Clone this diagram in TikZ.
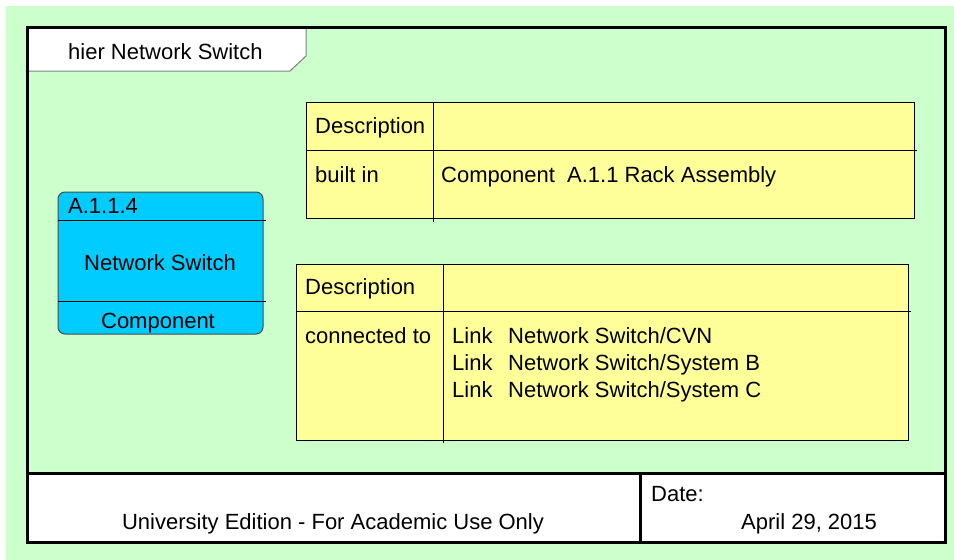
\documentclass[tikz,border=0pt]{standalone}
\usepackage{fontspec}
\setmainfont{Liberation Sans}
\usetikzlibrary{positioning}
\definecolor{bggreen}{HTML}{CCFFCC}
\definecolor{tblyellow}{HTML}{FFFF99}
\definecolor{compblue}{HTML}{00CCFF}

\begin{document}
\begin{tikzpicture}
  [
   x=1pt,y=-1pt,
   every node/.style={font=\fontsize{22}{26}\selectfont},
   tx/.style={anchor=base west,inner sep=0pt},
   tc/.style={anchor=base,inner sep=0pt},
   tbl/.style={draw=black,fill=tblyellow,line width=1pt},
   rl/.style={black,line width=1pt},
   frm/.style={draw=black,line width=3pt}
  ]
   \useasboundingbox (0,0) rectangle (954,560);
   \fill[bggreen] (6,6) rectangle (954,560);

   % title tab and bottom strip
   \draw[fill=white,draw=gray,line width=1pt] (27,27) -- (306,27) -- (306,56) -- (290,71) -- (27,71) -- cycle;
   \fill[white] (27,473) rectangle (945,542);
   \draw[frm] (27,27) rectangle (945,542);
   \draw[frm] (27,473) -- (945,473);
   \draw[frm] (640,473) -- (640,542);

   \node[tx] (title) at (68,59) {hier Network Switch};
   \node[tc] (edition) at (333,529) {University Edition - For Academic Use Only};
   \node[tx] (datelbl) at (651,501) {Date:};
   \node[tx] (dateval) at (741,529) {April 29, 2015};

   % component
   \draw[fill=compblue,draw=black!70,line width=1pt,rounded corners=7pt] (58,192) rectangle (263,334);
   \draw[rl] (58,220) -- (266,220);
   \draw[rl] (58,301) -- (266,301);
   \node[tx] (compid) at (68,213) {A.1.1.4};
   \node[tc] (compname) at (160,270) {Network Switch};
   \node[tc] (comptype) at (158,328) {Component};

   % built in table
   \draw[tbl] (306,102) rectangle (914,218);
   \draw[rl] (306,150) -- (917,150);
   \draw[rl] (433,102) -- (433,222);
   \node[tx] (desc1) at (315,133) {Description};
   \node[tx] (built) at (315,182) {built in};
   \node[tx] (parent) at (441,182) {Component~~A.1.1 Rack Assembly};

   % connected to table
   \draw[tbl] (296,264) rectangle (908,440);
   \draw[rl] (296,311) -- (911,311);
   \draw[rl] (443,264) -- (443,443);
   \node[tx] (desc2) at (305,294) {Description};
   \node[tx] (conn) at (305,343) {connected to};
   \node[tx] (lk1) at (452,343) {Link};
   \node[tx] (lk2) at (452,370) {Link};
   \node[tx] (lk3) at (452,397) {Link};
   \node[tx] (lt1) at (508,343) {Network Switch/CVN};
   \node[tx] (lt2) at (508,370) {Network Switch/System B};
   \node[tx] (lt3) at (508,397) {Network Switch/System C};

\end{tikzpicture}
\end{document}
